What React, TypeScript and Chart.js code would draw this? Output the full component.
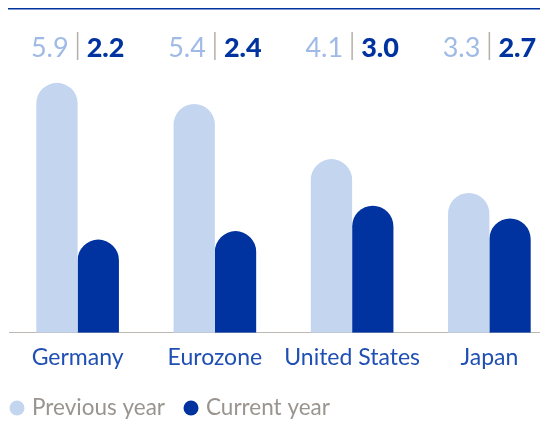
import React, { useEffect, useRef } from "react";
import { Chart, registerables } from "chart.js";

Chart.register(...registerables);

const categories = ["Germany", "Eurozone", "United States", "Japan"];
const previousYear = [5.9, 5.4, 4.1, 3.3];
const currentYear = [2.2, 2.4, 3.0, 2.7];
const seriesLabels = ["Previous year", "Current year"];

const DARK = "#0033a0";
const LIGHT = "#c4d5f0";
const LIGHT_TEXT = "#9fbae6";
const GRAY_SEP = "#b5afaa";
const AXIS = "#bdb8b4";
const LEGEND_TEXT = "#9a948f";
const LABEL_BLUE = "#1f4fb3";
const FONT = "Lato, 'Noto Sans', sans-serif";

const decor = {
  id: "decor",
  afterDraw(chart: any) {
    const ctx = chart.ctx;
    ctx.save();
    // top rule
    ctx.fillStyle = DARK;
    ctx.fillRect(0, 5, chart.width, 4.5);
    // value labels
    const xs = chart.scales.x;
    categories.forEach((_c, i) => {
      const cx = xs.getPixelForValue(i);
      const y = 57;
      ctx.textBaseline = "alphabetic";
      ctx.font = `400 27px ${FONT}`;
      ctx.textAlign = "right";
      ctx.fillStyle = LIGHT_TEXT;
      ctx.fillText(previousYear[i].toFixed(1), cx - 9, y);
      ctx.font = `900 27px ${FONT}`;
      ctx.textAlign = "left";
      ctx.fillStyle = DARK;
      ctx.fillText(currentYear[i].toFixed(1), cx + 9, y);
      ctx.fillStyle = GRAY_SEP;
      ctx.fillRect(cx - 0.75, 32, 1.5, 28);
    });
    // legend
    const colors = [LIGHT, DARK];
    ctx.font = `400 22.5px ${FONT}`;
    ctx.textAlign = "left";
    ctx.textBaseline = "alphabetic";
    let cxL = 9;
    const cy = 408;
    seriesLabels.forEach((lab, i) => {
      ctx.fillStyle = colors[i];
      ctx.beginPath();
      ctx.arc(cxL, cy, 7.5, 0, Math.PI * 2);
      ctx.fill();
      const tx = cxL + 15;
      ctx.fillStyle = LEGEND_TEXT;
      ctx.fillText(lab, tx, 415);
      cxL = tx + ctx.measureText(lab).width + 26;
    });
    ctx.restore();
  },
};

export default function App() {
  const ref = useRef<HTMLCanvasElement | null>(null);
  useEffect(() => {
    if (!ref.current) return;
    const chart = new Chart(ref.current, {
      type: "bar",
      data: {
        labels: categories,
        datasets: [
          {
            label: seriesLabels[0],
            data: previousYear,
            backgroundColor: LIGHT,
            borderRadius: { topLeft: 100, topRight: 100, bottomLeft: 0, bottomRight: 0 },
            borderSkipped: false,
          },
          {
            label: seriesLabels[1],
            data: currentYear,
            backgroundColor: DARK,
            borderRadius: { topLeft: 100, topRight: 100, bottomLeft: 0, bottomRight: 0 },
            borderSkipped: false,
          },
        ],
      },
      options: {
        responsive: false,
        animation: false,
        datasets: { bar: { categoryPercentage: 0.602, barPercentage: 1 } },
        layout: { padding: { left: 1, right: 0, top: 36.2, bottom: 48.6 } },
        plugins: { legend: { display: false }, tooltip: { enabled: false } },
        scales: {
          x: {
            grid: { display: false, drawTicks: false },
            border: { display: true, color: AXIS, width: 1 },
            ticks: {
              color: LABEL_BLUE,
              font: { family: FONT, size: 23 },
              padding: 10.5,
              maxRotation: 0,
              minRotation: 0,
              autoSkip: false,
            },
          },
          y: { display: false, min: 0, max: 7 },
        },
      },
      plugins: [decor],
    });
    return () => chart.destroy();
  }, []);
  return (
    <div style={{ marginTop: -8, width: 540, height: 430, overflow: "hidden" }}>
      <canvas ref={ref} width={550} height={430} style={{ display: "block", width: 550, height: 430 }} />
    </div>
  );
}
